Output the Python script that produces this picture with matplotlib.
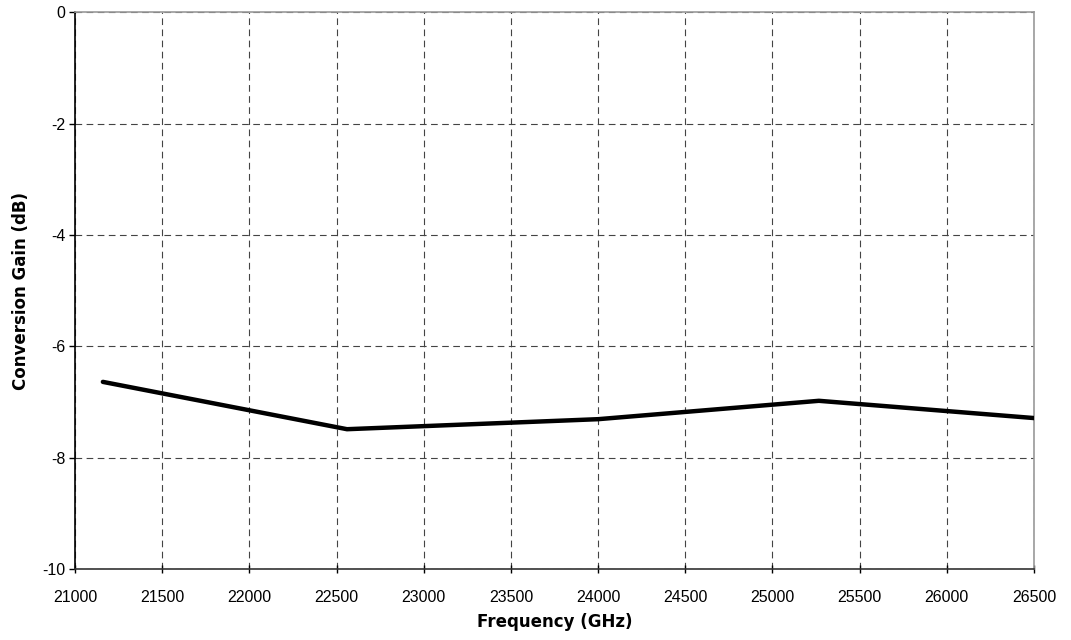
import matplotlib
matplotlib.use('Agg')
import matplotlib.pyplot as plt

# data
freq = [21160, 22560, 24000, 25266, 26500]
gain = [-6.64, -7.49, -7.31, -6.98, -7.29]

xticks = list(range(21000, 27000, 500))
yticks = [-10, -8, -6, -4, -2, 0]

fig = plt.figure(figsize=(10.71, 6.4), dpi=100)
ax = fig.add_axes([0.070, 0.111, 0.8955, 0.870])

ax.plot(freq, gain, color='black', linewidth=3.2, solid_capstyle='round', solid_joinstyle='round', zorder=3)

ax.set_xlim(21000, 26500)
ax.set_ylim(-10, 0)
ax.set_xticks(xticks)
ax.set_yticks(yticks)
ax.set_xticklabels([str(t) for t in xticks], fontsize=11.5, family='Liberation Sans')
ax.set_yticklabels([str(t) for t in yticks], fontsize=11.5, family='Liberation Sans')
ax.tick_params(axis='x', direction='inout', length=6, width=1, pad=12)
ax.tick_params(axis='y', direction='out', length=4, width=1, pad=3)

ax.grid(True, color='#444444', linestyle=(0, (6, 4)), linewidth=0.8)

ax.spines['left'].set_color('black')
ax.spines['bottom'].set_color('#333333')
ax.spines['top'].set_color('#999999')
ax.spines['right'].set_color('#999999')
for s in ax.spines.values():
    s.set_linewidth(1.2)

ax.set_xlabel('Frequency (GHz)', fontsize=12, fontweight='bold', labelpad=6)
ax.set_ylabel('Conversion Gain (dB)', fontsize=12, fontweight='bold', labelpad=9)

fig.savefig('out.png', dpi=100)
